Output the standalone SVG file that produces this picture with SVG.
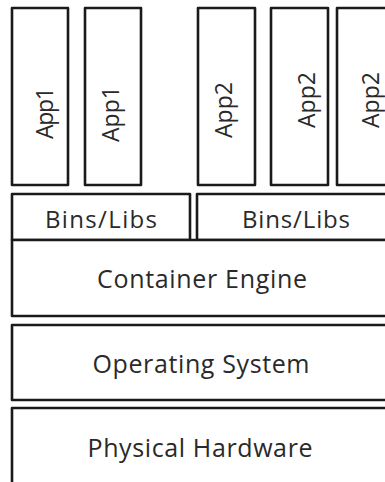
<svg xmlns="http://www.w3.org/2000/svg" width="385" height="482" viewBox="0 0 385 482">
<style>
.box{fill:#fff;stroke:#1a1a1a;stroke-width:2.6;stroke-linejoin:round}
.t{font-family:"Open Sans","DejaVu Sans",sans-serif;fill:#2a2a2a;text-anchor:middle;dominant-baseline:central}
.app{font-size:23px}
.lib{font-size:24px}
.layer{font-size:25px}
</style>
<rect width="385" height="482" fill="#fff"/>
<g id="app1a"><rect class="box" x="12" y="8" width="56" height="177"/><text class="t app" transform="translate(44,113) rotate(-90)" textLength="52">App1</text></g>
<g id="app1b"><rect class="box" x="85" y="8" width="56" height="177"/><text class="t app" transform="translate(110,114) rotate(-90)" textLength="56">App1</text></g>
<g id="app2a"><rect class="box" x="198" y="8" width="57" height="177"/><text class="t app" transform="translate(223,110) rotate(-90)" textLength="56">App2</text></g>
<g id="app2b"><rect class="box" x="271" y="8" width="57" height="177"/><text class="t app" transform="translate(306,100) rotate(-90)" textLength="56">App2</text></g>
<g id="app2c"><rect class="box" x="337" y="8" width="60" height="177"/><text class="t app" transform="translate(370,100) rotate(-90)" textLength="56">App2</text></g>
<g id="libs1"><rect class="box" x="12" y="194" width="178" height="46"/><text class="t lib" x="101" y="218" textLength="112">Bins/Libs</text></g>
<g id="libs2"><rect class="box" x="197" y="194" width="200" height="46"/><text class="t lib" x="296" y="218" textLength="108">Bins/Libs</text></g>
<g id="engine"><rect class="box" x="12" y="240" width="385" height="76"/><text class="t layer" x="202" y="278" textLength="210">Container Engine</text></g>
<g id="os"><rect class="box" x="12" y="325" width="385" height="75"/><text class="t layer" x="201" y="363" textLength="217">Operating System</text></g>
<g id="hw"><rect class="box" x="12" y="408" width="385" height="90"/><text class="t layer" x="200" y="447" textLength="225">Physical Hardware</text></g>
<g id="connectors"/>
</svg>
